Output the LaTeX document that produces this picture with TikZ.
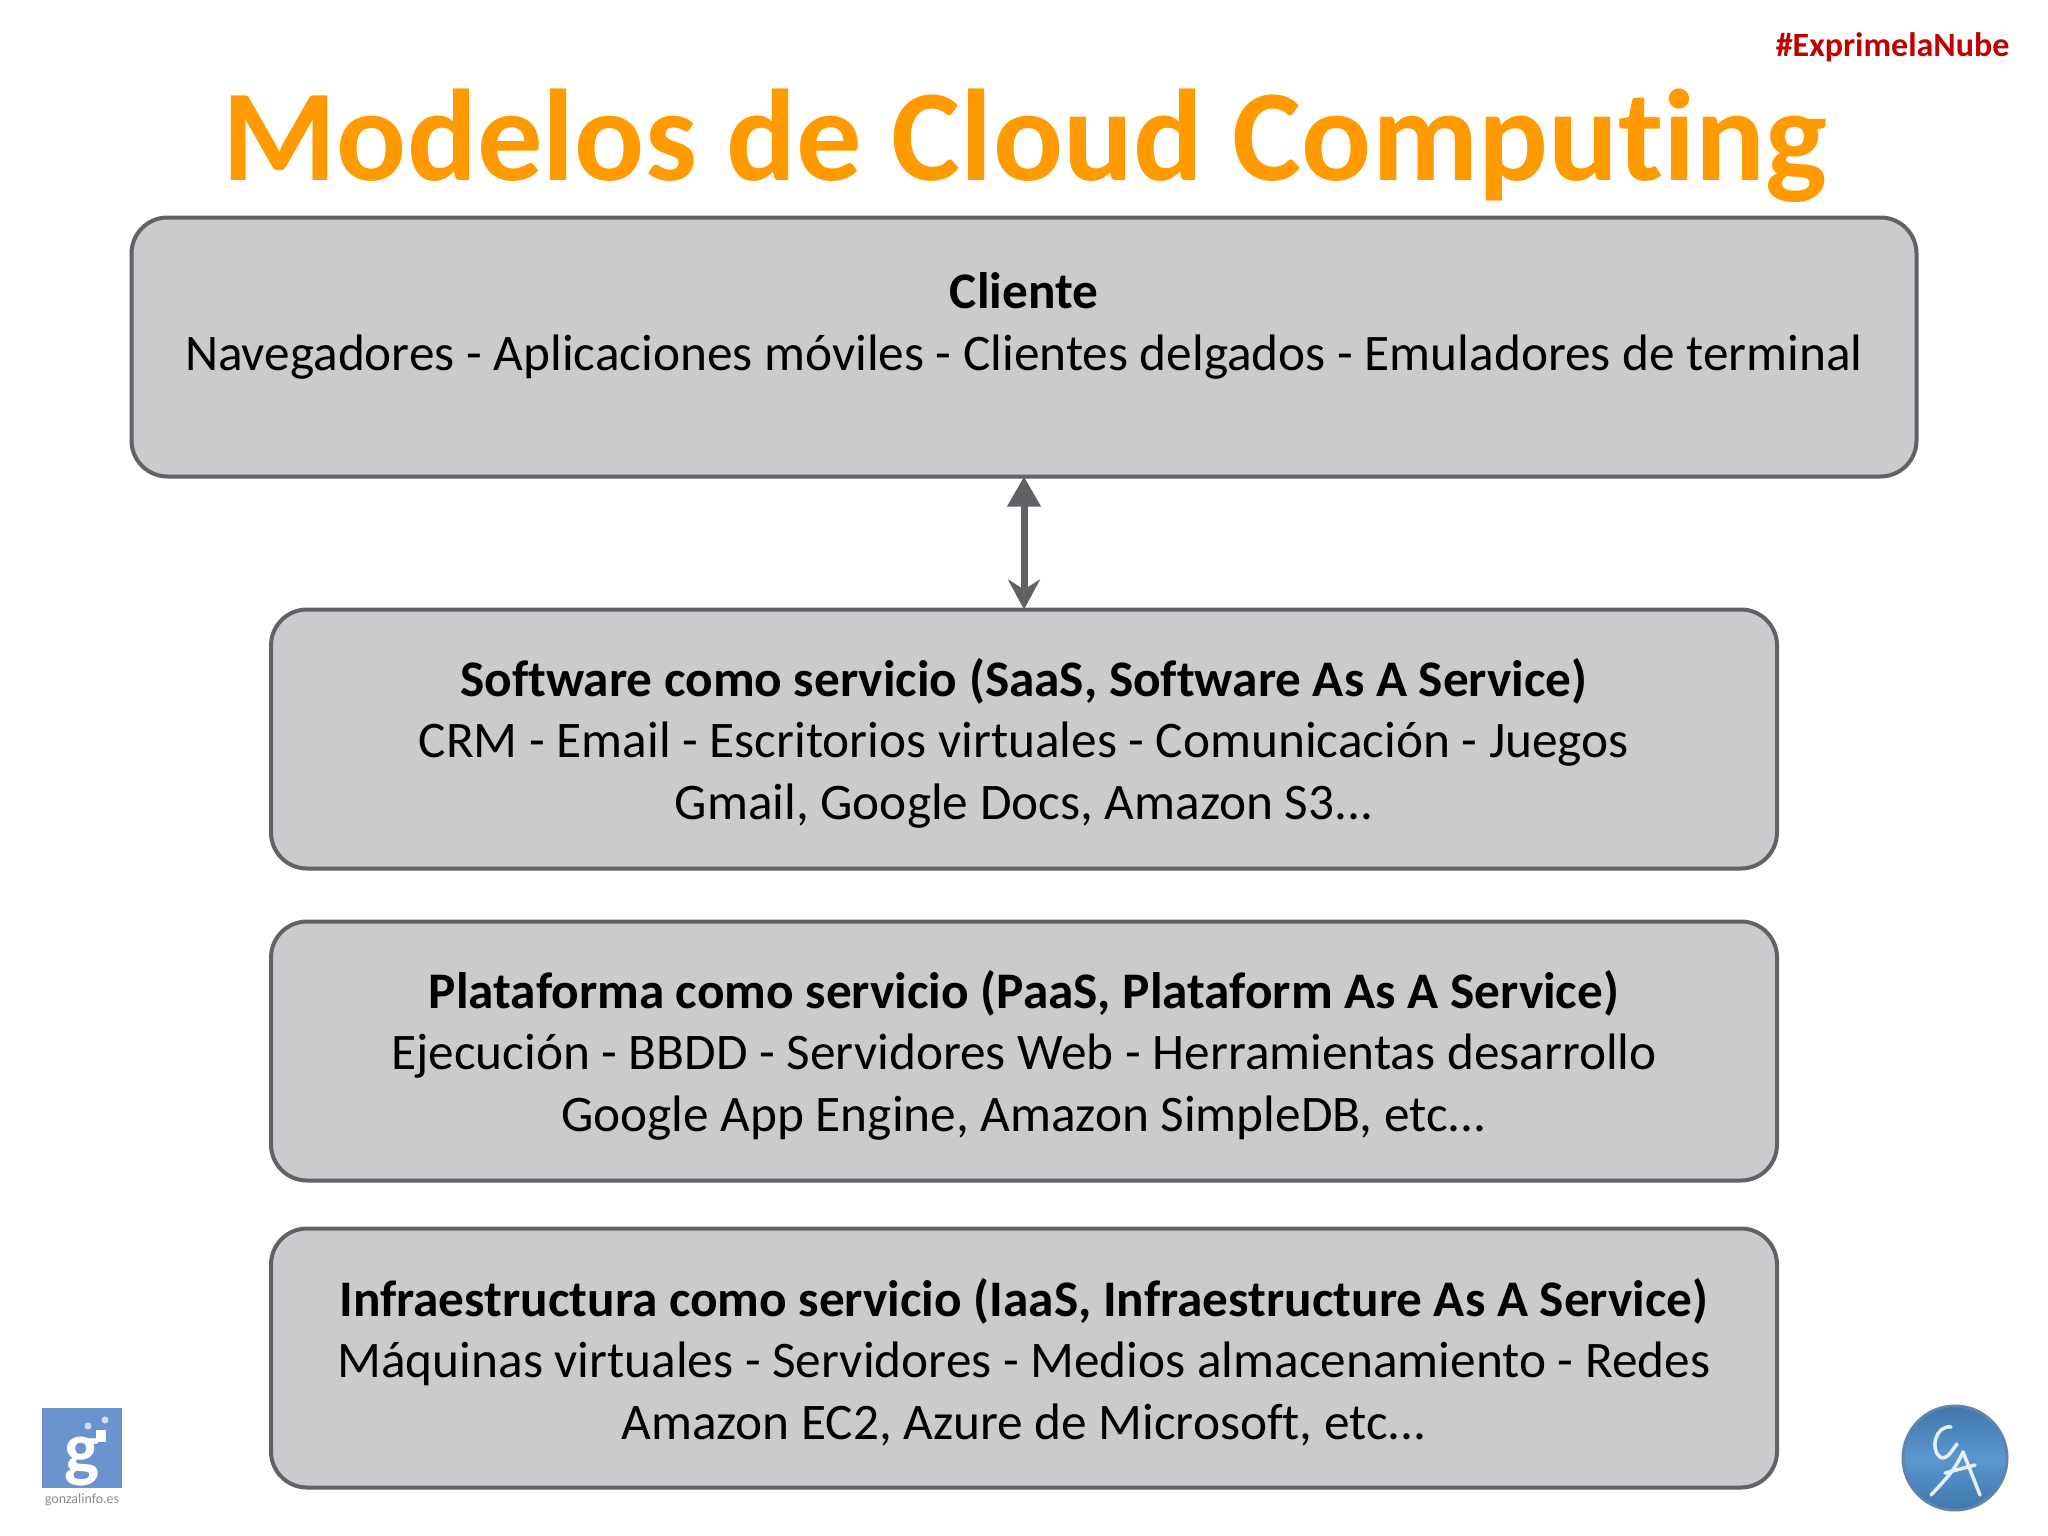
\documentclass[tikz,border=0pt]{standalone}
\usepackage{fontspec}
\setmainfont[Ligatures=NoCommon]{Carlito}
\usetikzlibrary{arrows.meta}
\definecolor{boxfill}{HTML}{CCCACD}
\definecolor{boxline}{HTML}{636166}
\definecolor{titleorange}{HTML}{FF9A00}
\definecolor{tagred}{HTML}{C00000}
\definecolor{logoblue}{HTML}{6A93CF}
\definecolor{discblue}{HTML}{5A97D0}
\definecolor{discdark}{HTML}{3F77AD}
\definecolor{discedge}{HTML}{5F84A8}
\newcommand{\boxhead}[1]{\rule{0pt}{46.5pt}\textbf{#1}}
\tikzset{
  layerbox/.style={draw=boxline,fill=boxfill,line width=4pt,rounded corners=36pt,
    minimum height=259pt,align=center,text=black,outer sep=0pt,
    font=\fontsize{51.3}{61.5}\selectfont,inner sep=0pt},
  widebox/.style={layerbox,minimum width=1785pt},
  narrowbox/.style={layerbox,minimum width=1506pt},
}
\begin{document}
\begin{tikzpicture}
   \useasboundingbox (0pt,0pt) rectangle (2048pt,-1536pt);
   \begin{scope}[x=1pt,y=-1pt]
   \draw(2013,57) node (tag) [anchor=base east,text=tagred,font=\fontsize{34}{40}\selectfont\bfseries] {\#ExprimelaNube};
   \draw(1025,180) node (title) [anchor=base,text=titleorange,font=\fontsize{130.5}{140}\selectfont\bfseries] {Modelos de Cloud Computing};
   \draw(1024,347) node (cliente) [widebox] {\boxhead{Cliente}\\Navegadores - Aplicaciones móviles - Clientes delgados - Emuladores de terminal\\\mbox{}};
   \draw(1024,739) node (saas) [narrowbox] {\boxhead{Software como servicio (SaaS, Software As A Service)}\\CRM - Email - Escritorios virtuales - Comunicación - Juegos\\Gmail, Google Docs, Amazon S3...};
   \draw(1024,1051) node (paas) [narrowbox] {\boxhead{Plataforma como servicio (PaaS, Plataform As A Service)}\\Ejecución - BBDD - Servidores Web - Herramientas desarrollo\\Google App Engine, Amazon SimpleDB, etc...};
   \draw(1024,1358) node (iaas) [narrowbox] {\boxhead{Infraestructura como servicio (IaaS, Infraestructure As A Service)}\\Máquinas virtuales - Servidores - Medios almacenamiento - Redes\\Amazon EC2, Azure de Microsoft, etc...};
   \draw[boxline,line width=7pt,{Triangle[length=30pt,width=32pt]}-{Stealth[length=30pt,width=32pt,inset=10pt]}] (cliente.south) -- (saas.north);
   % left logo
   \fill[logoblue] (42,1408) rectangle (122,1488);
   \draw(82,1462) node (glogo) [text=white,font=\fontsize{74}{80}\selectfont\bfseries] {g};
   \fill[white] (96,1430) rectangle (106,1442);
   \fill[white!70!logoblue] (88,1426) circle (3.5) (105,1420) circle (3.5);
   \draw(82,1500) node (gtext) [text=black!45,font=\fontsize{14}{16}\selectfont] {gonzalinfo.es};
   % right logo
   \draw[discedge,line width=3pt,top color=discdark,bottom color=discdark,middle color=discblue] (1955,1458) circle (52);
   \draw[white!85!discblue,line width=3.5pt,line cap=round] (1951,1427) .. controls (1935,1425) and (1930,1450) .. (1940,1457) .. controls (1947,1461) and (1952,1450) .. (1957,1444);
   \draw[white!85!discblue,line width=3.5pt,line cap=round] (1963,1452) -- (1980,1495) (1963,1452) .. controls (1955,1470) and (1945,1480) .. (1931,1495) (1945,1473) -- (1975,1465);
   \end{scope}
\end{tikzpicture}
\end{document}
